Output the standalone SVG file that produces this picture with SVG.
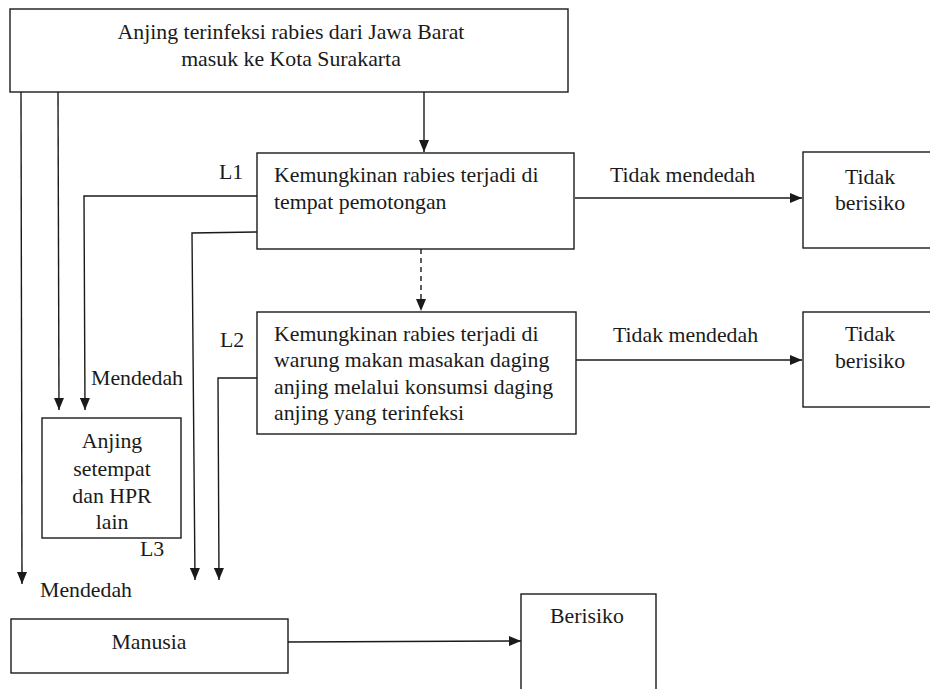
<svg xmlns="http://www.w3.org/2000/svg" width="930" height="689" viewBox="0 0 930 689">
<style>
.box{fill:#fff;stroke:#1a1a1a;stroke-width:1.4}
.t{font-family:"Liberation Serif","Times New Roman",serif;font-size:21.8px;fill:#1a1a1a}
.c{text-anchor:middle}
.ln{fill:none;stroke:#1a1a1a;stroke-width:1.4}
.dash{stroke-dasharray:5,4}
</style>
<defs>
<marker id="ah" markerWidth="12" markerHeight="10" refX="12" refY="5" orient="auto" markerUnits="userSpaceOnUse">
<path d="M0,0 L12,5 L0,10 Z" fill="#1a1a1a"/>
</marker>
</defs>
<rect width="930" height="689" fill="#fff"/>

<g id="connectors">
<line class="ln" x1="424" y1="92" x2="424" y2="152" marker-end="url(#ah)"/>
<line class="ln" x1="21" y1="92" x2="22" y2="584" marker-end="url(#ah)"/>
<line class="ln" x1="58" y1="92" x2="59" y2="410" marker-end="url(#ah)"/>
<polyline class="ln" points="257,196 84,196 85,410" marker-end="url(#ah)"/>
<polyline class="ln" points="257,232 192,233 195,580" marker-end="url(#ah)"/>
<polyline class="ln" points="257,378 218,378 219,580" marker-end="url(#ah)"/>
<line class="ln dash" x1="421" y1="249" x2="421" y2="311" marker-end="url(#ah)"/>
<line class="ln" x1="575" y1="198" x2="802" y2="198" marker-end="url(#ah)"/>
<line class="ln" x1="576" y1="360" x2="802" y2="360" marker-end="url(#ah)"/>
<line class="ln" x1="288" y1="642" x2="521" y2="641" marker-end="url(#ah)"/>
<text class="t" x="610" y="182">Tidak mendedah</text>
<text class="t" x="613" y="342">Tidak mendedah</text>
<text class="t" x="219" y="179">L1</text>
<text class="t" x="220" y="347">L2</text>
<text class="t" x="140" y="556">L3</text>
<text class="t" x="91" y="385">Mendedah</text>
<text class="t" x="40" y="597">Mendedah</text>
</g>

<g id="n-source">
<rect class="box" x="10" y="9" width="558" height="83"/>
<text class="t c" x="291" y="39">Anjing terinfeksi rabies dari Jawa Barat</text>
<text class="t c" x="291" y="66">masuk ke Kota Surakarta</text>
</g>

<g id="n-l1">
<rect class="box" x="257" y="153" width="317" height="96"/>
<text class="t" x="274" y="182">Kemungkinan rabies terjadi di</text>
<text class="t" x="274" y="209">tempat pemotongan</text>
</g>

<g id="n-l2">
<rect class="box" x="257" y="312" width="319" height="122"/>
<text class="t" x="274" y="341">Kemungkinan rabies terjadi di</text>
<text class="t" x="274" y="367">warung makan masakan daging</text>
<text class="t" x="274" y="394">anjing melalui konsumsi daging</text>
<text class="t" x="274" y="420">anjing yang terinfeksi</text>
</g>

<g id="n-tidak1">
<rect class="box" x="803" y="152" width="140" height="96"/>
<text class="t c" x="870" y="184">Tidak</text>
<text class="t c" x="870" y="210">berisiko</text>
</g>

<g id="n-tidak2">
<rect class="box" x="803" y="312" width="140" height="95"/>
<text class="t c" x="870" y="341">Tidak</text>
<text class="t c" x="870" y="368">berisiko</text>
</g>

<g id="n-l3">
<rect class="box" x="42" y="418" width="139" height="120"/>
<text class="t c" x="112" y="448">Anjing</text>
<text class="t c" x="112" y="476">setempat</text>
<text class="t c" x="112" y="503">dan HPR</text>
<text class="t c" x="112" y="529">lain</text>
</g>

<g id="n-manusia">
<rect class="box" x="11" y="619" width="277" height="54"/>
<text class="t c" x="149" y="649">Manusia</text>
</g>

<g id="n-berisiko">
<rect class="box" x="521" y="594" width="135" height="110"/>
<text class="t" x="550" y="623">Berisiko</text>
</g>
</svg>
